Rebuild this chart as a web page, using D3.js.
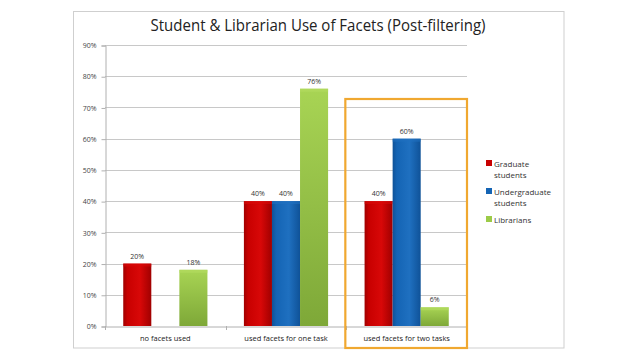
<!DOCTYPE html>
<html><head><meta charset="utf-8">
<script src="https://cdn.jsdelivr.net/npm/d3@7"></script>
<style>body{margin:0;background:#fff}svg{display:block}</style>
</head><body><svg id="c" width="638" height="359"></svg>
<script>
const categories = ["no facets used","used facets for one task","used facets for two tasks"];
const seriesNames = ["Graduate students","Undergraduate students","Librarians"];
const graduate = [20, 40, 40];
const undergraduate = [0, 40, 60];
const librarians = [18, 76, 6];
const yTicks = [0,10,20,30,40,50,60,70,80,90];
const colors = ["#c80000","#1464b4","#9ccb48"];
const darks = ["#a00000","#0f5298","#6f9a2c"];
const lights = ["#d80808","#1f70c0","#b4dc60"];

const series = [graduate, undergraduate, librarians];
const svg = d3.select("#c");
const font = "'Open Sans', 'Liberation Sans', sans-serif";

// frame
svg.append("rect").attr("x",73.5).attr("y",11.5).attr("width",490.5).attr("height",336.5)
  .attr("fill","#fff").attr("stroke","#cfcfcf").attr("stroke-width",1);

// title
svg.append("text").attr("x",318).attr("y",31).attr("text-anchor","middle")
  .attr("font-family",font).attr("font-size",15.5).attr("fill","#222")
  .attr("textLength",335).attr("lengthAdjust","spacingAndGlyphs")
  .text("Student & Librarian Use of Facets (Post-filtering)");

const L=105, R=467, T=45, B=326;
const x = d3.scaleBand().domain(categories).range([L,R]);
const y = d3.scaleLinear().domain([0,90]).range([B,T]);

// gradients
const defs = svg.append("defs");
colors.forEach((c,i)=>{
  const g = defs.append("linearGradient").attr("id","g"+i).attr("x1",0).attr("x2",1).attr("y1",0).attr("y2",0);
  g.append("stop").attr("offset","0%").attr("stop-color",darks[i]);
  g.append("stop").attr("offset","15%").attr("stop-color",c);
  g.append("stop").attr("offset","60%").attr("stop-color",lights[i]);
  g.append("stop").attr("offset","100%").attr("stop-color",darks[i]);
});
const gv = defs.append("linearGradient").attr("id","gv2").attr("x1",0).attr("x2",0).attr("y1",0).attr("y2",1);
gv.append("stop").attr("offset","0%").attr("stop-color","#a8d454");
gv.append("stop").attr("offset","100%").attr("stop-color","#7ea838");

// gridlines
svg.append("g").selectAll("line").data(yTicks.slice(1)).join("line")
  .attr("x1",L).attr("x2",R).attr("y1",d=>Math.round(y(d))+0.5).attr("y2",d=>Math.round(y(d))+0.5)
  .attr("stroke","#c8c8c8").attr("stroke-width",1);

// y axis
const yAxis = d3.axisLeft(y).tickValues(yTicks).tickFormat(d=>d+"%").tickSize(4).tickPadding(5);
const ya = svg.append("g").attr("transform",`translate(${L+0.5},0.5)`).call(yAxis);
ya.select(".domain").attr("stroke","#b0b0b0");
ya.selectAll(".tick line").attr("stroke","#b0b0b0");
ya.selectAll("text").attr("font-family",font).attr("font-size",7).attr("fill","#444");

// x axis
const xAxis = d3.axisBottom(x).tickSize(0).tickPadding(9);
const xa = svg.append("g").attr("transform",`translate(0,${B+0.5})`).call(xAxis);
xa.select(".domain").attr("stroke","#b0b0b0");
xa.selectAll("text").attr("font-family",font).attr("font-size",7.5).attr("fill","#222");
svg.append("g").selectAll("line").data(d3.range(categories.length+1)).join("line")
  .attr("x1",i=>Math.round(L+i*x.step())+0.5).attr("x2",i=>Math.round(L+i*x.step())+0.5)
  .attr("y1",B).attr("y2",B+4).attr("stroke","#b0b0b0");

// bars
const inner = d3.scaleBand().domain(d3.range(3)).range([0,x.bandwidth()]).paddingInner(0).paddingOuter(0.65);
const bars = svg.append("g");
categories.forEach((cat,ci)=>{
  series.forEach((s,si)=>{
    const v = s[ci];
    if(!v) return;
    const bx = x(cat)+inner(si), bw = inner.bandwidth();
    bars.append("rect").attr("x",bx).attr("y",y(v)).attr("width",bw).attr("height",B-y(v))
      .attr("fill",si===2?"url(#gv2)":`url(#g${si})`);
    bars.append("rect").attr("x",bx).attr("y",y(v)).attr("width",bw).attr("height",Math.min(3,B-y(v)))
      .attr("fill",lights[si]).attr("opacity",0.6);
    bars.append("text").attr("x",bx+bw/2).attr("y",y(v)-5).attr("text-anchor","middle")
      .attr("font-family",font).attr("font-size",7).attr("fill","#333").text(v+"%");
  });
});

// highlight box
svg.append("rect").attr("x",x(categories[2])-1).attr("y",99).attr("width",x.step()+1).attr("height",249)
  .attr("fill","none").attr("stroke","#f0a830").attr("stroke-width",2.2);

// legend
const legendLines = [["Graduate","students"],["Undergraduate","students"],["Librarians"]];
const legY = [165,193,221];
const lg = svg.append("g");
legendLines.forEach((lines,i)=>{
  lg.append("rect").attr("x",486).attr("y",legY[i]-5).attr("width",6).attr("height",6).attr("fill",colors[i]);
  const t = lg.append("text").attr("x",494).attr("y",legY[i]+1.5)
    .attr("font-family",font).attr("font-size",8).attr("fill","#333");
  lines.forEach((ln,j)=>t.append("tspan").attr("x",494).attr("dy",j?11:0).text(ln));
});
</script></body></html>
